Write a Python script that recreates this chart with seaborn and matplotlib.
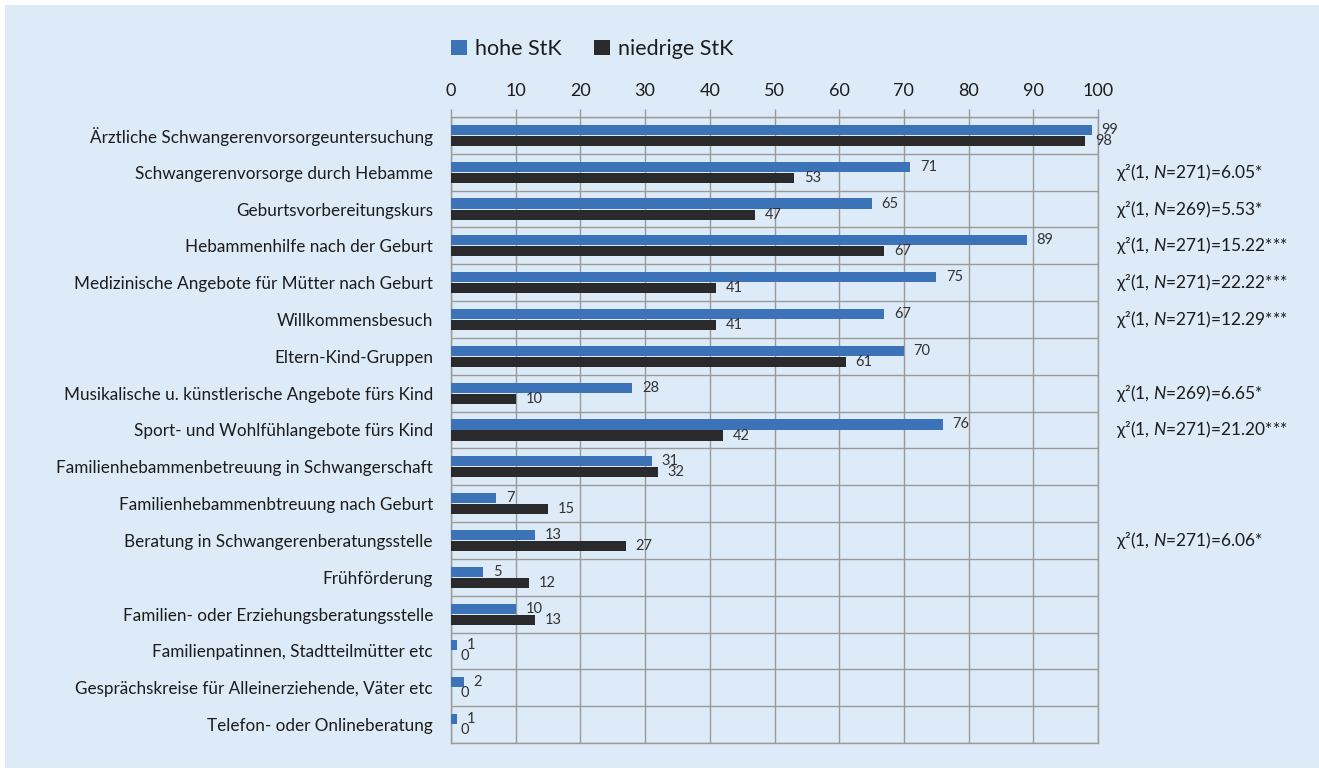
import matplotlib
matplotlib.use('Agg')
import matplotlib.pyplot as plt
import pandas as pd
import seaborn as sns
from matplotlib.patches import Rectangle
from matplotlib.ticker import FixedLocator

# Data
categories = [
    'Ärztliche Schwangerenvorsorgeuntersuchung',
    'Schwangerenvorsorge durch Hebamme',
    'Geburtsvorbereitungskurs',
    'Hebammenhilfe nach der Geburt',
    'Medizinische Angebote für Mütter nach Geburt',
    'Willkommensbesuch',
    'Eltern-Kind-Gruppen',
    'Musikalische u. künstlerische Angebote fürs Kind',
    'Sport- und Wohlfühlangebote fürs Kind',
    'Familienhebammenbetreuung in Schwangerschaft',
    'Familienhebammenbtreuung nach Geburt',
    'Beratung in Schwangerenberatungsstelle',
    'Frühförderung',
    'Familien- oder Erziehungsberatungsstelle',
    'Familienpatinnen, Stadtteilmütter etc',
    'Gesprächskreise für Alleinerziehende, Väter etc',
    'Telefon- oder Onlineberatung',
]
hohe = [99, 71, 65, 89, 75, 67, 70, 28, 76, 31, 7, 13, 5, 10, 1, 2, 1]
niedrige = [98, 53, 47, 67, 41, 41, 61, 10, 42, 32, 15, 27, 12, 13, 0, 0, 0]
groups = ['hohe StK', 'niedrige StK']
x_ticks = list(range(0, 101, 10))

# chi-square notes per category row
chi_rows = [1, 2, 3, 4, 5, 7, 8, 11]
chi_n = [271, 269, 271, 271, 271, 269, 271, 271]
chi_val = ['6.05*', '5.53*', '15.22***', '22.22***', '12.29***', '6.65*', '21.20***', '6.06*']

df = pd.DataFrame({
    'Angebot': categories * 2,
    'Prozent': hohe + niedrige,
    'Gruppe': [groups[0]] * len(categories) + [groups[1]] * len(categories),
})

sns.set_style('white')
plt.rcParams['font.family'] = ['Lato', 'DejaVu Sans']
plt.rcParams['mathtext.fontset'] = 'custom'
plt.rcParams['mathtext.rm'] = 'Lato'
plt.rcParams['mathtext.it'] = 'Lato:italic'

bg = '#ddeaf7'
grid_c = '#9a9a9a'
txt_c = '#1c1c1c'

fig = plt.figure(figsize=(13.19, 7.70), dpi=100)
fig.patch.set_facecolor('white')
fig.patches.append(Rectangle((5 / 1319, 2 / 770), 1, 1 - 7 / 770, transform=fig.transFigure,
                             facecolor=bg, edgecolor='none', zorder=-10))
ax = fig.add_axes([451 / 1319, 1 - 743 / 770, 647 / 1319, 626 / 770])
ax.set_facecolor(bg)

sns.barplot(data=df, y='Angebot', x='Prozent', hue='Gruppe', orient='h',
            palette=['#3c72b8', '#2a2a2c'], saturation=1, width=0.6, gap=0.08, ax=ax,
            legend=True, linewidth=0, zorder=3)

ax.set_xlim(0, 100)
ax.set_ylim(len(categories) - 0.5, -0.5)
ax.set_xlabel('')
ax.set_ylabel('')

# x axis on top
ax.xaxis.tick_top()
ax.set_xticks(x_ticks)
ax.tick_params(axis='x', which='major', length=6, width=1, color=grid_c,
               labelsize=13, labelcolor=txt_c, pad=7)
ax.grid(axis='x', which='major', color=grid_c, lw=1, zorder=0)

# category boundaries
ax.yaxis.set_minor_locator(FixedLocator([i - 0.5 for i in range(len(categories) + 1)]))
ax.tick_params(axis='y', which='minor', length=7, width=1, color=grid_c)
ax.tick_params(axis='y', which='major', length=0, labelsize=12.3, labelcolor=txt_c, pad=13)
ax.grid(axis='y', which='minor', color=grid_c, lw=1, zorder=0)

for s in ax.spines.values():
    s.set_color(grid_c)
    s.set_linewidth(1)

# value labels
for cont in ax.containers:
    for bar in cont:
        w = bar.get_width()
        yc = bar.get_y() + bar.get_height() / 2
        ax.annotate(f'{w:.0f}', (w, yc), xytext=(7, 0), textcoords='offset points',
                    ha='left', va='center', fontsize=10.5, color='#333333', clip_on=False)

# chi-square notes
for r, n, v in zip(chi_rows, chi_n, chi_val):
    ax.annotate(f'χ²(1, $N$={n})={v}', (100, r), xytext=(13, 0), textcoords='offset points',
                xycoords='data', ha='left', va='center', fontsize=12.5, color=txt_c,
                annotation_clip=False)

# legend
handles, labels = ax.get_legend_handles_labels()
ax.legend(handles, labels, loc='lower left', bbox_to_anchor=(-0.013, 1.079), ncol=2,
          frameon=False, fontsize=15.5, handlelength=0.75, handleheight=0.75,
          handletextpad=0.35, columnspacing=1.5, borderaxespad=0, labelcolor=txt_c)

fig.savefig('out.png', dpi=100, facecolor=fig.get_facecolor())
